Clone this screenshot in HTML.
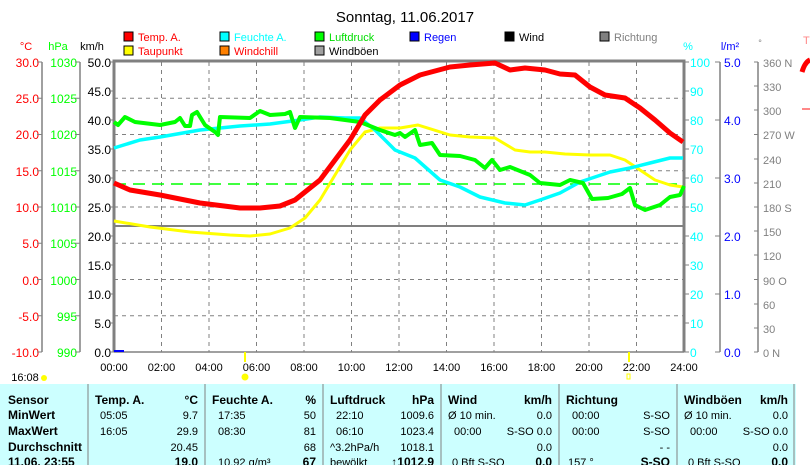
<!DOCTYPE html>
<html><head><meta charset="utf-8"><style>
body{margin:0;background:#fff;}
svg{display:block;font-family:"Liberation Sans",sans-serif;}
</style></head><body>
<svg width="810" height="465" xmlns="http://www.w3.org/2000/svg">
<rect width="810" height="465" fill="#fff"/>
<text x="405" y="22" font-size="15" text-anchor="middle" fill="#000">Sonntag, 11.06.2017</text>
<g font-size="11">
<rect x="124" y="32" width="9" height="9" fill="#f00" stroke="#000"/><text x="138" y="41" fill="#f00">Temp. A.</text>
<rect x="220" y="32" width="9" height="9" fill="#0ff" stroke="#000"/><text x="234" y="41" fill="#0ff">Feuchte A.</text>
<rect x="315" y="32" width="9" height="9" fill="#0f0" stroke="#000"/><text x="329" y="41" fill="#0d0">Luftdruck</text>
<rect x="410" y="32" width="9" height="9" fill="#00f" stroke="#000"/><text x="424" y="41" fill="#00f">Regen</text>
<rect x="505" y="32" width="9" height="9" fill="#000" stroke="#000"/><text x="519" y="41" fill="#000">Wind</text>
<rect x="600" y="32" width="9" height="9" fill="#808080" stroke="#000"/><text x="614" y="41" fill="#808080">Richtung</text>
<rect x="124" y="46" width="9" height="9" fill="#ff0" stroke="#000"/><text x="138" y="55" fill="#f00">Taupunkt</text>
<rect x="220" y="46" width="9" height="9" fill="#ff8000" stroke="#000"/><text x="234" y="55" fill="#f00">Windchill</text>
<rect x="315" y="46" width="9" height="9" fill="#a0a0a0" stroke="#000"/><text x="329" y="55" fill="#000">Windböen</text>
<text x="26" y="50" fill="#f00" text-anchor="middle">°C</text>
<text x="58" y="50" fill="#0f0" text-anchor="middle">hPa</text>
<text x="92" y="50" fill="#000" text-anchor="middle">km/h</text>
<text x="688" y="50" fill="#0ff" text-anchor="middle">%</text>
<text x="730" y="50" fill="#00f" text-anchor="middle">l/m²</text>
<text x="760" y="46" fill="#808080" text-anchor="middle" font-size="9">°</text>
<text x="803" y="44" fill="#f88">T</text>
</g>
<!-- axis lines -->
<g stroke="#808080" stroke-width="1.5">
<line x1="42" y1="62" x2="42" y2="352"/>
<line x1="80" y1="62" x2="80" y2="352"/>
<line x1="720" y1="62" x2="720" y2="352"/>
<line x1="758" y1="62" x2="758" y2="352"/>
</g>
<g font-size="12" text-anchor="end">
<g fill="#f00">
<text x="39" y="67">30.0</text><text x="39" y="103">25.0</text><text x="39" y="139">20.0</text><text x="39" y="176">15.0</text><text x="39" y="212">10.0</text><text x="39" y="248">5.0</text><text x="39" y="285">0.0</text><text x="39" y="321">-5.0</text><text x="39" y="357">-10.0</text>
</g>
<g fill="#0f0">
<text x="77" y="67">1030</text><text x="77" y="103">1025</text><text x="77" y="139">1020</text><text x="77" y="176">1015</text><text x="77" y="212">1010</text><text x="77" y="248">1005</text><text x="77" y="285">1000</text><text x="77" y="321">995</text><text x="77" y="357">990</text>
</g>
<g fill="#000">
<text x="111" y="67">50.0</text><text x="111" y="96">45.0</text><text x="111" y="125">40.0</text><text x="111" y="154">35.0</text><text x="111" y="183">30.0</text><text x="111" y="212">25.0</text><text x="111" y="241">20.0</text><text x="111" y="270">15.0</text><text x="111" y="299">10.0</text><text x="111" y="328">5.0</text><text x="111" y="357">0.0</text>
</g>
</g>
<g font-size="12" fill="#0ff">
<text x="690" y="67">100</text><text x="690" y="96">90</text><text x="690" y="125">80</text><text x="690" y="154">70</text><text x="690" y="183">60</text><text x="690" y="212">50</text><text x="690" y="241">40</text><text x="690" y="270">30</text><text x="690" y="299">20</text><text x="690" y="328">10</text><text x="690" y="357">0</text>
</g>
<g font-size="12" fill="#00f">
<text x="724" y="67">5.0</text><text x="724" y="125">4.0</text><text x="724" y="183">3.0</text><text x="724" y="241">2.0</text><text x="724" y="299">1.0</text><text x="724" y="357">0.0</text>
</g>
<g font-size="11" fill="#808080">
<text x="763" y="67">360 N</text><text x="763" y="91">330</text><text x="763" y="115">300</text><text x="763" y="139">270 W</text><text x="763" y="164">240</text><text x="763" y="188">210</text><text x="763" y="212">180 S</text><text x="763" y="236">150</text><text x="763" y="260">120</text><text x="763" y="285">90  O</text><text x="763" y="309">60</text><text x="763" y="333">30</text><text x="763" y="357">0   N</text>
</g>
<!-- ticks -->
<g stroke="#808080" stroke-width="1">
<path d="M42 62h-5M42 98.25h-5M42 134.5h-5M42 170.75h-5M42 207h-5M42 243.25h-5M42 279.5h-5M42 315.75h-5M42 352h-5"/>
<path d="M80 62h-5M80 98.25h-5M80 134.5h-5M80 170.75h-5M80 207h-5M80 243.25h-5M80 279.5h-5M80 315.75h-5M80 352h-5"/>
<path d="M114 62h-4M114 91h-4M114 120h-4M114 149h-4M114 178h-4M114 207h-4M114 236h-4M114 265h-4M114 294h-4M114 323h-4M114 352h-4"/>
<path d="M684 62h5M684 91h5M684 120h5M684 149h5M684 178h5M684 207h5M684 236h5M684 265h5M684 294h5M684 323h5M684 352h5"/>
<path d="M720 62h-5M720 120h-5M720 178h-5M720 236h-5M720 294h-5M720 352h-5"/>
<path d="M758 62h-4M758 86h-4M758 110h-4M758 134.5h-4M758 159h-4M758 183h-4M758 207h-4M758 231h-4M758 255h-4M758 279.5h-4M758 304h-4M758 328h-4M758 352h-4"/>
</g>
<!-- grid -->
<g stroke="#808080" stroke-width="1" stroke-dasharray="4,4">
<path d="M161.5 62V352M209 62V352M256.5 62V352M304 62V352M351.5 62V352M399 62V352M446.5 62V352M494 62V352M541.5 62V352M589 62V352M636.5 62V352"/>
<path d="M114 98.25H684M114 134.5H684M114 170.75H684M114 207H684M114 243.25H684M114 279.5H684M114 315.75H684"/>
</g>
<line x1="114" y1="184" x2="684" y2="184" stroke="#0f0" stroke-width="1.5" stroke-dasharray="12,7"/>
<line x1="114" y1="226" x2="684" y2="226" stroke="#808080" stroke-width="2"/>
<g stroke="#808080" stroke-width="3" fill="none">
<path d="M114 352V61H684V352"/>
</g>
<line x1="114" y1="352" x2="684" y2="352" stroke="#808080" stroke-width="1.5"/>
<line x1="114" y1="351" x2="124" y2="351" stroke="#00f" stroke-width="2"/>
<g fill="none" stroke-width="4" stroke-linejoin="round">
<polyline stroke="#ff0" stroke-width="3" points="114,221 150,227 190,232 230,235 250,236 270,234 290,228 305,218 320,200 335,175 350,150 365,132 380,128 400,128 418,125 450,135 470,137 495,138 515,150 530,152 545,152 565,154 590,155 610,155 625,160 640,170 655,180 670,185 683,187"/>
<polyline stroke="#0ff" stroke-width="3.5" points="114,148 140,140 160,137 200,130 240,126 270,124 300,120 320,117 345,118 360,118 375,130 395,150 400,152 415,158 440,180 460,187 480,197 505,203 525,205 540,200 560,193 580,182 610,172 630,168 650,163 670,158 683,158"/>
<polyline stroke="#0f0" points="114,122 118,125 125,117 135,122 160,125 175,122 180,118 185,126 190,126 192,115 197,112 205,125 215,132 218,135 220,117 250,118 260,111 270,115 285,114 290,112 295,128 300,117 330,118 345,120 360,122 380,130 395,135 400,133 405,137 415,130 420,145 432,143 440,155 460,156 475,160 485,168 492,160 500,170 510,167 530,175 540,183 560,185 570,180 583,183 592,199 608,198 622,194 630,188 635,205 645,210 660,205 670,197 680,195 684,186"/>
<polyline stroke="#f00" stroke-width="5" points="114,183 130,190 160,195 200,203 240,208 260,208 280,206 295,200 310,188 320,180 335,160 350,140 365,115 380,100 400,85 420,75 450,67 470,65 495,63 510,70 525,68 545,70 560,74 575,75 590,87 605,95 625,98 640,108 655,120 670,133 683,142"/>
</g>
<!-- clipped right parts -->
<path d="M802 72 q3-10 8-12" stroke="#f00" stroke-width="5" fill="none"/>
<line x1="802" y1="109" x2="810" y2="109" stroke="#f88" stroke-width="2"/>
<!-- x labels -->
<g font-size="11" fill="#000" text-anchor="middle">
<text x="114" y="371">00:00</text><text x="161.5" y="371">02:00</text><text x="209" y="371">04:00</text><text x="256.5" y="371">06:00</text><text x="304" y="371">08:00</text><text x="351.5" y="371">10:00</text><text x="399" y="371">12:00</text><text x="446.5" y="371">14:00</text><text x="494" y="371">16:00</text><text x="541.5" y="371">18:00</text><text x="589" y="371">20:00</text><text x="636.5" y="371">22:00</text><text x="684" y="371">24:00</text>
<text x="25" y="381">16:08</text>
</g>
<circle cx="44" cy="378" r="3" fill="#ff0"/>
<circle cx="245" cy="377" r="3.5" fill="#ff0"/>
<line x1="245" y1="352" x2="245" y2="362" stroke="#ff0" stroke-width="2"/>
<rect x="627" y="374" width="3" height="5" fill="none" stroke="#ff0"/>
<line x1="629" y1="352" x2="629" y2="362" stroke="#ff0" stroke-width="2"/>
<!-- table -->
<rect x="0" y="384" width="810" height="81" fill="#ccffff"/>
<g stroke="#808080" stroke-width="1">
<path d="M88 384V465M205 384V465M323 384V465M441 384V465M559 384V465M677 384V465M794 384V465"/>
</g>
<rect x="796" y="384" width="14" height="81" fill="#fff"/>
<g font-size="12" fill="#000">
<g font-weight="bold">
<text x="8" y="404">Sensor</text><text x="8" y="419">MinWert</text><text x="8" y="435">MaxWert</text><text x="8" y="451">Durchschnitt</text><text x="8" y="466">11.06. 23:55</text>
<text x="95" y="404">Temp. A.</text><text x="198" y="404" text-anchor="end">°C</text>
<text x="212" y="404">Feuchte A.</text><text x="316" y="404" text-anchor="end">%</text>
<text x="330" y="404">Luftdruck</text><text x="434" y="404" text-anchor="end">hPa</text>
<text x="448" y="404">Wind</text><text x="552" y="404" text-anchor="end">km/h</text>
<text x="566" y="404">Richtung</text>
<text x="684" y="404">Windböen</text><text x="788" y="404" text-anchor="end">km/h</text>
<text x="198" y="466" text-anchor="end">19.0</text><text x="316" y="466" text-anchor="end">67</text><text x="434" y="466" text-anchor="end">↑1012.9</text><text x="552" y="466" text-anchor="end">0.0</text><text x="670" y="466" text-anchor="end">S-SO</text><text x="788" y="466" text-anchor="end">0.0</text>
</g>
<g font-size="11">
<text x="100" y="419">05:05</text><text x="198" y="419" text-anchor="end">9.7</text>
<text x="100" y="435">16:05</text><text x="198" y="435" text-anchor="end">29.9</text>
<text x="198" y="451" text-anchor="end">20.45</text>
<text x="218" y="419">17:35</text><text x="316" y="419" text-anchor="end">50</text>
<text x="218" y="435">08:30</text><text x="316" y="435" text-anchor="end">81</text>
<text x="316" y="451" text-anchor="end">68</text><text x="218" y="466">10.92 g/m³</text>
<text x="336" y="419">22:10</text><text x="434" y="419" text-anchor="end">1009.6</text>
<text x="336" y="435">06:10</text><text x="434" y="435" text-anchor="end">1023.4</text>
<text x="330" y="451">^3.2hPa/h</text><text x="434" y="451" text-anchor="end">1018.1</text><text x="330" y="466">bewölkt</text>
<text x="448" y="419">Ø 10 min.</text><text x="552" y="419" text-anchor="end">0.0</text>
<text x="454" y="435">00:00</text><text x="552" y="435" text-anchor="end">S-SO 0.0</text>
<text x="552" y="451" text-anchor="end">0.0</text><text x="452" y="466">0 Bft S-SO</text>
<text x="572" y="419">00:00</text><text x="670" y="419" text-anchor="end">S-SO</text>
<text x="572" y="435">00:00</text><text x="670" y="435" text-anchor="end">S-SO</text>
<text x="670" y="451" text-anchor="end">- -</text><text x="568" y="466">157 °</text>
<text x="684" y="419">Ø 10 min.</text><text x="788" y="419" text-anchor="end">0.0</text>
<text x="690" y="435">00:00</text><text x="788" y="435" text-anchor="end">S-SO 0.0</text>
<text x="788" y="451" text-anchor="end">0.0</text><text x="688" y="466">0 Bft S-SO</text>
</g>
</g>
</svg>
</body></html>
